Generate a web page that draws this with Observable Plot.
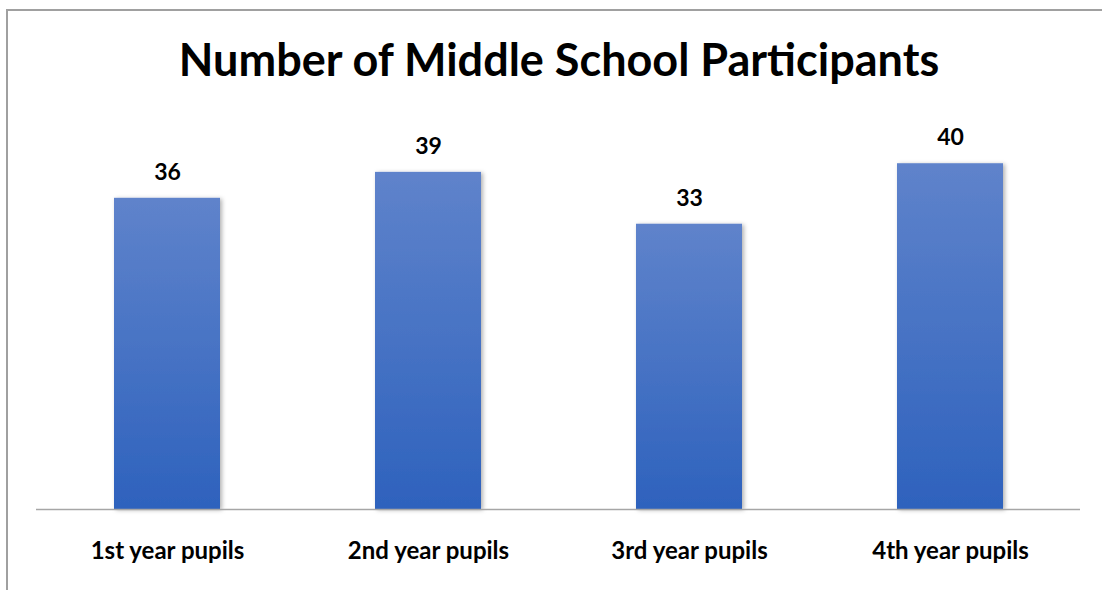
<!DOCTYPE html>
<html>
<head>
<meta charset="utf-8">
<script src="https://cdn.jsdelivr.net/npm/d3@7"></script>
<script src="https://cdn.jsdelivr.net/npm/@observablehq/plot@0.6"></script>
<style>
  html, body { margin: 0; padding: 0; background: #fff; }
  #wrap { position: relative; width: 1102px; height: 590px; overflow: hidden; font-family: Lato, "Open Sans", sans-serif; }
  #frame { position: absolute; left: 6px; top: 9px; width: 1200px; height: 700px; border-left: 2px solid #a0a0a0; border-top: 2px solid #a0a0a0; }
  #title { position: absolute; left: 0; top: 0; width: 1118px; height: 100px; text-align: center; font-weight: 700; font-size: 45px; line-height: 1; color: #000; padding-top: 37px; box-sizing: border-box; }
  #chart { position: absolute; left: 0; top: 100px; }
</style>
</head>
<body>
<div id="wrap">
  <div id="frame"></div>
  <div id="title">Number of Middle School Participants</div>
  <div id="chart"></div>
</div>
<script>
const categories = ["1st year pupils", "2nd year pupils", "3rd year pupils", "4th year pupils"];
const values = [36, 39, 33, 40];

const data = categories.map((c, i) => ({category: c, value: values[i]}));

const plot = Plot.plot({
  width: 1102,
  height: 490,
  marginLeft: 36,
  marginRight: 22,
  marginTop: 20,
  marginBottom: 81,
  x: {domain: categories, paddingInner: 0.595, paddingOuter: 0.2975, align: 0.5, axis: null},
  y: {domain: [0, 45], axis: null},
  style: {fontFamily: "Lato, 'Open Sans', sans-serif", background: "transparent"},
  marks: [
    Plot.barY(data, {x: "category", y: "value", fill: "url(#barGrad)"}),
    Plot.ruleY([0], {stroke: "#a6a6a6", strokeWidth: 1.5}),
    Plot.text(data, {x: "category", y: "value", text: d => String(d.value), dy: -26, fontSize: 23, fontWeight: 700, fill: "#000", lineAnchor: "middle"}),
    Plot.text(data, {x: "category", y: () => 0, text: "category", dy: 42, fontSize: 24, fontWeight: 700, fill: "#000", lineAnchor: "middle"})
  ]
});

const svg = d3.select(plot);
const defs = svg.insert("defs", ":first-child");
const g = defs.append("linearGradient").attr("id", "barGrad").attr("x1", 0).attr("y1", 0).attr("x2", 0).attr("y2", 1);
g.append("stop").attr("offset", "0%").attr("stop-color", "#5f83cb");
g.append("stop").attr("offset", "100%").attr("stop-color", "#2e62bd");
const f = defs.append("filter").attr("id", "barShadow").attr("x", "-10%").attr("y", "-10%").attr("width", "130%").attr("height", "130%");
f.append("feDropShadow").attr("dx", 2).attr("dy", 1).attr("stdDeviation", 2).attr("flood-color", "#000").attr("flood-opacity", 0.3);
svg.selectAll("g[aria-label='bar'] rect").style("filter", "url(#barShadow)");

document.getElementById("chart").appendChild(plot);
</script>
</body>
</html>
